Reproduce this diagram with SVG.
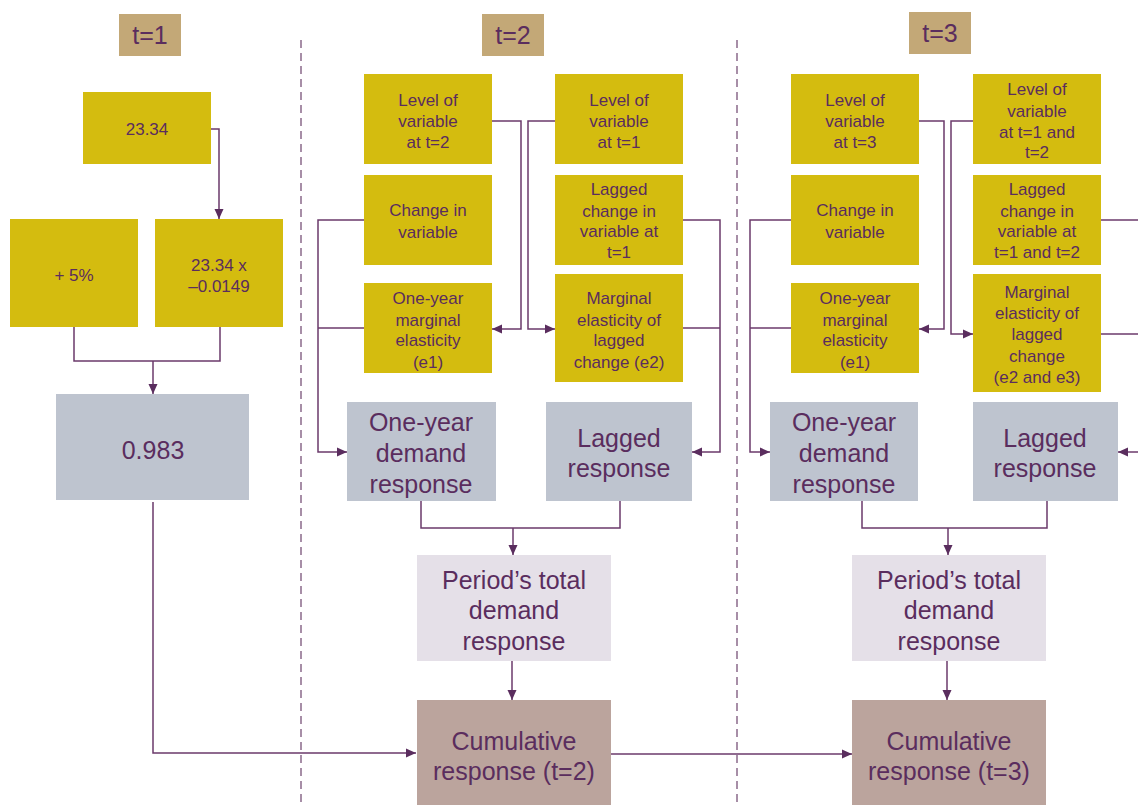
<svg xmlns="http://www.w3.org/2000/svg" width="1138" height="805" viewBox="0 0 1138 805">
<style>
.lbl{fill:#c3a877}
.y{fill:#d4bc0f}
.g{fill:#bec4cf}
.p{fill:#e5e0e8}
.c{fill:#bba49d}
text{font-family:"Liberation Sans",Arial,sans-serif;fill:#5a2d5e;text-anchor:middle}
.s{font-size:17px}
.b{font-size:25px}
.cn{fill:none;stroke:#6b3a6b;stroke-width:1.5}
.dash{stroke:#8a6a8a;stroke-width:1.5;stroke-dasharray:8,5}
</style>
<defs>
<marker id="ah" markerUnits="userSpaceOnUse" markerWidth="10" markerHeight="10" refX="10" refY="5" orient="auto">
<path d="M0,0.5 L10,5 L0,9.5 z" fill="#5a2d5e"/>
</marker>
</defs>
<g id="dividers">
<line class="dash" x1="301" y1="40" x2="301" y2="805"/>
<line class="dash" x1="737" y1="40" x2="737" y2="805"/>
</g>
<g id="connectors">
<path class="cn" d="M211,129 H219 V219" marker-end="url(#ah)"/>
<path class="cn" d="M74,327 V361 H220 V327"/>
<path class="cn" d="M153,361 V394" marker-end="url(#ah)"/>
<path class="cn" d="M153,502 V753 H416" marker-end="url(#ah)"/>
<path class="cn" d="M492,121 H521 V329 H492" marker-end="url(#ah)"/>
<path class="cn" d="M555,121 H528 V329 H555" marker-end="url(#ah)"/>
<path class="cn" d="M364,220 H318 V452 H347" marker-end="url(#ah)"/>
<path class="cn" d="M364,328 H318"/>
<path class="cn" d="M683,220 H720 V452 H692" marker-end="url(#ah)"/>
<path class="cn" d="M683,328 H720"/>
<path class="cn" d="M421,501 V528 H620 V501"/>
<path class="cn" d="M513,528 V555" marker-end="url(#ah)"/>
<path class="cn" d="M512,661 V700" marker-end="url(#ah)"/>
<path class="cn" d="M611,754 H852" marker-end="url(#ah)"/>
<path class="cn" d="M919,121 H944 V329 H919" marker-end="url(#ah)"/>
<path class="cn" d="M973,121 H951 V334 H973" marker-end="url(#ah)"/>
<path class="cn" d="M791,220 H750 V452 H770" marker-end="url(#ah)"/>
<path class="cn" d="M791,328 H750"/>
<path class="cn" d="M1101,220 H1138"/>
<path class="cn" d="M1101,334 H1138"/>
<path class="cn" d="M1138,452 H1118" marker-end="url(#ah)"/>
<path class="cn" d="M862,501 V528 H1047 V501"/>
<path class="cn" d="M948,528 V555" marker-end="url(#ah)"/>
<path class="cn" d="M947,661 V700" marker-end="url(#ah)"/>
</g>
<g id="t1-label"><rect class="lbl" x="119" y="14" width="62" height="42"/><text class="b" x="150" y="44">t=1</text></g>
<g id="t2-label"><rect class="lbl" x="482" y="14" width="62" height="42"/><text class="b" x="513" y="44">t=2</text></g>
<g id="t3-label"><rect class="lbl" x="909" y="12" width="62" height="42"/><text class="b" x="940" y="42">t=3</text></g>

<g id="n-2334"><rect class="y" x="83" y="92" width="128" height="72"/><text class="s" x="147" y="135">23.34</text></g>
<g id="n-plus5"><rect class="y" x="10" y="219" width="128" height="108"/><text class="s" x="74" y="281">+ 5%</text></g>
<g id="n-mult"><rect class="y" x="155" y="219" width="128" height="108"/><text class="s" x="219" y="271">23.34 x</text><text class="s" x="219" y="292">–0.0149</text></g>
<g id="n-0983"><rect class="g" x="56" y="394" width="193" height="106"/><text class="b" x="153" y="459">0.983</text></g>

<g id="n-lvl2"><rect class="y" x="364" y="74" width="128" height="90"/><text class="s" x="428" y="106">Level of</text><text class="s" x="428" y="127">variable</text><text class="s" x="428" y="148">at t=2</text></g>
<g id="n-chg2"><rect class="y" x="364" y="175" width="128" height="90"/><text class="s" x="428" y="216">Change in</text><text class="s" x="428" y="238">variable</text></g>
<g id="n-e1-2"><rect class="y" x="364" y="283" width="128" height="90"/><text class="s" x="428" y="304">One-year</text><text class="s" x="428" y="326">marginal</text><text class="s" x="428" y="346">elasticity</text><text class="s" x="428" y="368">(e1)</text></g>
<g id="n-lvl1-2"><rect class="y" x="555" y="74" width="128" height="90"/><text class="s" x="619" y="106">Level of</text><text class="s" x="619" y="127">variable</text><text class="s" x="619" y="148">at t=1</text></g>
<g id="n-lag2"><rect class="y" x="555" y="175" width="128" height="90"/><text class="s" x="619" y="195">Lagged</text><text class="s" x="619" y="217">change in</text><text class="s" x="619" y="237">variable at</text><text class="s" x="619" y="258">t=1</text></g>
<g id="n-e2-2"><rect class="y" x="555" y="274" width="128" height="108"/><text class="s" x="619" y="304">Marginal</text><text class="s" x="619" y="326">elasticity of</text><text class="s" x="619" y="346">lagged</text><text class="s" x="619" y="368">change (e2)</text></g>
<g id="n-oydr2"><rect class="g" x="347" y="402" width="149" height="99"/><text class="b" x="421" y="431">One-year</text><text class="b" x="421" y="462">demand</text><text class="b" x="421" y="493">response</text></g>
<g id="n-lr2"><rect class="g" x="546" y="402" width="146" height="99"/><text class="b" x="619" y="447">Lagged</text><text class="b" x="619" y="477">response</text></g>
<g id="n-ptdr2"><rect class="p" x="417" y="555" width="194" height="106"/><text class="b" x="514" y="589">Period’s total</text><text class="b" x="514" y="619">demand</text><text class="b" x="514" y="650">response</text></g>
<g id="n-cum2"><rect class="c" x="417" y="700" width="194" height="105"/><text class="b" x="514" y="750">Cumulative</text><text class="b" x="514" y="780">response (t=2)</text></g>

<g id="n-lvl3"><rect class="y" x="791" y="74" width="128" height="90"/><text class="s" x="855" y="106">Level of</text><text class="s" x="855" y="127">variable</text><text class="s" x="855" y="148">at t=3</text></g>
<g id="n-chg3"><rect class="y" x="791" y="175" width="128" height="90"/><text class="s" x="855" y="216">Change in</text><text class="s" x="855" y="238">variable</text></g>
<g id="n-e1-3"><rect class="y" x="791" y="283" width="128" height="90"/><text class="s" x="855" y="304">One-year</text><text class="s" x="855" y="326">marginal</text><text class="s" x="855" y="346">elasticity</text><text class="s" x="855" y="368">(e1)</text></g>
<g id="n-lvl12-3"><rect class="y" x="973" y="74" width="128" height="90"/><text class="s" x="1037" y="95">Level of</text><text class="s" x="1037" y="117">variable</text><text class="s" x="1037" y="138">at t=1 and</text><text class="s" x="1037" y="158">t=2</text></g>
<g id="n-lag3"><rect class="y" x="973" y="175" width="128" height="90"/><text class="s" x="1037" y="195">Lagged</text><text class="s" x="1037" y="217">change in</text><text class="s" x="1037" y="237">variable at</text><text class="s" x="1037" y="258">t=1 and t=2</text></g>
<g id="n-e23-3"><rect class="y" x="973" y="274" width="128" height="118"/><text class="s" x="1037" y="298">Marginal</text><text class="s" x="1037" y="319">elasticity of</text><text class="s" x="1037" y="340">lagged</text><text class="s" x="1037" y="362">change</text><text class="s" x="1037" y="383">(e2 and e3)</text></g>
<g id="n-oydr3"><rect class="g" x="770" y="402" width="148" height="99"/><text class="b" x="844" y="431">One-year</text><text class="b" x="844" y="462">demand</text><text class="b" x="844" y="493">response</text></g>
<g id="n-lr3"><rect class="g" x="973" y="402" width="145" height="99"/><text class="b" x="1045" y="447">Lagged</text><text class="b" x="1045" y="477">response</text></g>
<g id="n-ptdr3"><rect class="p" x="852" y="555" width="194" height="106"/><text class="b" x="949" y="589">Period’s total</text><text class="b" x="949" y="619">demand</text><text class="b" x="949" y="650">response</text></g>
<g id="n-cum3"><rect class="c" x="852" y="700" width="194" height="105"/><text class="b" x="949" y="750">Cumulative</text><text class="b" x="949" y="780">response (t=3)</text></g>
</svg>
